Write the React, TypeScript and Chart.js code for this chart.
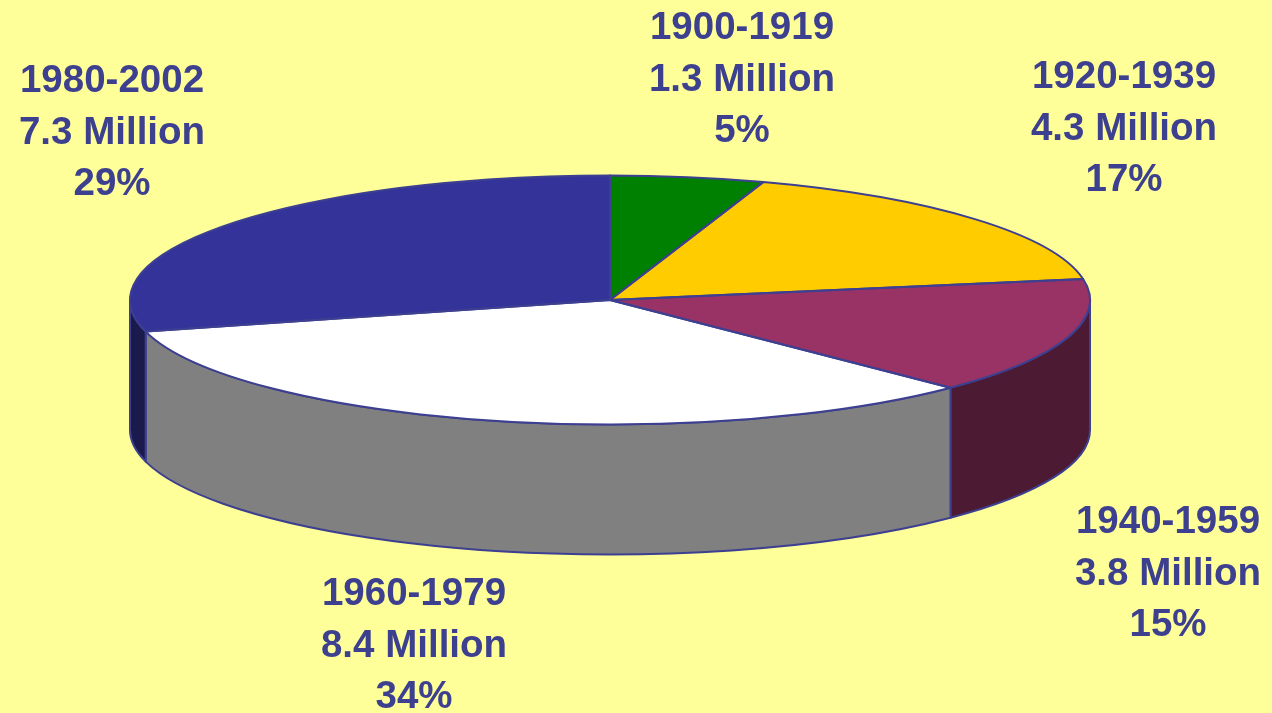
import React, { useEffect, useRef } from 'react';
import { Chart, registerables } from 'chart.js';

Chart.register(...registerables);

// ---- data ----
const CATEGORIES = ['1900-1919', '1920-1939', '1940-1959', '1960-1979', '1980-2002'];
const VALUES = [1.3, 4.3, 3.8, 8.4, 7.3]; // millions
const PERCENT_LABELS = ['5%', '17%', '15%', '34%', '29%'];

// ---- styles ----
const TOP_COLORS = ['#008000', '#FFCC00', '#993366', '#FFFFFF', '#333399'];
const SIDE_COLORS = ['#004000', '#806600', '#4C1A33', '#808080', '#1A1A4C'];
const EDGE_COLOR = '#3D3F90';
const TEXT_COLOR = '#3D408E';
const BG = '#FFFF99';

const W = 1272;
const H = 713;
const RADIUS = 480; // horizontal radius of the pie (px)
const TILT = 124.5 / 480; // vertical squash of the top face
const DEPTH = 130; // thickness of the pie (px)
// label layout: [center x, first baseline y]
const LABEL_POS: [number, number][] = [
  [742, 39],
  [1124, 88],
  [1168, 533],
  [414, 605],
  [112, 92],
];
const LINE_GAP = 51.5;

const pie3d = {
  id: 'pie3d',
  beforeDatasetsDraw(chart: any) {
    const ctx = chart.ctx as CanvasRenderingContext2D;
    const meta = chart.getDatasetMeta(0);
    const first = meta.data[0];
    const { x: cx, y: cy } = first.getProps(['x', 'y'], true);
    // front side walls
    ctx.save();
    ctx.lineWidth = 2;
    ctx.strokeStyle = EDGE_COLOR;
    ctx.lineJoin = 'round';
    meta.data.forEach((arc: any, i: number) => {
      const { x, y, startAngle, endAngle, outerRadius } = arc.getProps(
        ['x', 'y', 'startAngle', 'endAngle', 'outerRadius'],
        true
      );
      const ry = outerRadius * TILT;
      const a = Math.max(startAngle, 0);
      const b = Math.min(endAngle, Math.PI);
      if (b <= a) return;
      ctx.beginPath();
      ctx.ellipse(x, y, outerRadius, ry, 0, a, b);
      ctx.lineTo(x + outerRadius * Math.cos(b), y + ry * Math.sin(b) + DEPTH);
      ctx.ellipse(x, y + DEPTH, outerRadius, ry, 0, b, a, true);
      ctx.closePath();
      ctx.fillStyle = SIDE_COLORS[i];
      ctx.fill();
      ctx.stroke();
    });
    ctx.restore();
    // squash the top face drawn by Chart.js
    ctx.save();
    ctx.translate(cx, cy);
    ctx.scale(1, TILT);
    ctx.translate(-cx, -cy);
  },
  afterDatasetsDraw(chart: any) {
    const ctx = chart.ctx as CanvasRenderingContext2D;
    ctx.restore();
    const meta = chart.getDatasetMeta(0);
    ctx.save();
    ctx.lineWidth = 2;
    ctx.strokeStyle = EDGE_COLOR;
    ctx.lineJoin = 'round';
    meta.data.forEach((arc: any) => {
      const { x, y, startAngle, endAngle, outerRadius } = arc.getProps(
        ['x', 'y', 'startAngle', 'endAngle', 'outerRadius'],
        true
      );
      const ry = outerRadius * TILT;
      ctx.beginPath();
      ctx.moveTo(x, y);
      ctx.ellipse(x, y, outerRadius, ry, 0, startAngle, endAngle);
      ctx.closePath();
      ctx.stroke();
    });
    ctx.restore();
  },
  afterDraw(chart: any) {
    const ctx = chart.ctx as CanvasRenderingContext2D;
    const values = chart.data.datasets[0].data as number[];
    const labels = chart.data.labels as string[];
    ctx.save();
    ctx.fillStyle = TEXT_COLOR;
    ctx.font = 'bold 38.5px "Liberation Sans", Arial, sans-serif';
    ctx.textAlign = 'center';
    ctx.textBaseline = 'alphabetic';
    labels.forEach((lab, i) => {
      const [lx, ly] = LABEL_POS[i];
      const lines = [lab, `${values[i]} Million`, PERCENT_LABELS[i]];
      lines.forEach((t, j) => ctx.fillText(t, lx, ly + j * LINE_GAP));
    });
    ctx.restore();
  },
};

export default function App() {
  const ref = useRef<HTMLCanvasElement | null>(null);
  useEffect(() => {
    document.body.style.margin = '0';
    document.body.style.background = BG;
    const canvas = ref.current!;
    const chart = new Chart(canvas, {
      type: 'pie',
      data: {
        labels: CATEGORIES,
        datasets: [
          {
            data: VALUES,
            backgroundColor: TOP_COLORS,
            borderWidth: 0,
            radius: RADIUS,
            offset: 0,
            hoverOffset: 0,
            clip: false,
          } as any,
        ],
      },
      options: {
        responsive: false,
        animation: false,
        devicePixelRatio: 1,
        events: [],
        layout: { padding: { left: 0, right: 52, top: 0, bottom: 113 } },
        plugins: {
          legend: { display: false },
          tooltip: { enabled: false },
          title: { display: false },
        },
      },
      plugins: [pie3d],
    });
    return () => chart.destroy();
  }, []);
  return (
    <div style={{ width: W, height: H, background: BG }}>
      <canvas ref={ref} width={W} height={H} style={{ display: 'block' }} />
    </div>
  );
}
